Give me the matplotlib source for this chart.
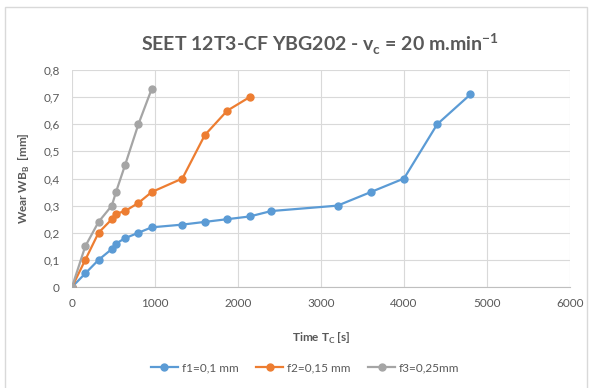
import matplotlib.pyplot as plt
from matplotlib.patches import Rectangle

plt.rcParams['font.family'] = ['Lato', 'DejaVu Sans']

t1 = [0, 160, 320, 480, 530, 640, 800, 960, 1330, 1600, 1870, 2140, 2400, 3200, 3600, 4000, 4400, 4800]
wear1 = [0, 0.05, 0.10, 0.14, 0.16, 0.18, 0.20, 0.22, 0.23, 0.24, 0.25, 0.26, 0.28, 0.30, 0.35, 0.40, 0.60, 0.71]
t2 = [0, 160, 320, 480, 530, 640, 800, 960, 1330, 1600, 1870, 2140]
wear2 = [0, 0.10, 0.20, 0.25, 0.27, 0.28, 0.31, 0.35, 0.40, 0.56, 0.65, 0.70]
t3 = [0, 160, 320, 480, 530, 640, 800, 960]
wear3 = [0, 0.15, 0.24, 0.30, 0.35, 0.45, 0.60, 0.73]
labels = ["f1=0,1 mm", "f2=0,15 mm", "f3=0,25mm"]
colors = ["#5B9BD5", "#ED7D31", "#A5A5A5"]

txt = "#595959"
fig = plt.figure(figsize=(5.93, 3.88), dpi=100)
fig.patches.append(Rectangle((5/593, -0.05), 582/593, 1 - 7/388 + 0.05, transform=fig.transFigure,
                             fill=False, edgecolor="#D9D9D9", linewidth=1))
ax = fig.add_axes([72/593, 1 - 287/388, 498/593, 217/388])

for t, w, lab, c in zip([t1, t2, t3], [wear1, wear2, wear3], labels, colors):
    ax.plot(t, w, color=c, lw=1.6, marker="o", ms=5, label=lab, zorder=3)

ax.set_xlim(0, 6000)
ax.set_ylim(0, 0.8)
ax.set_xticks(range(0, 6001, 1000))
yt = [i / 10 for i in range(9)]
ax.set_yticks(yt)
ax.set_yticklabels(["0"] + [("%.1f" % v).replace(".", ",") for v in yt[1:]])
ax.grid(True, color="#D9D9D9", lw=0.8)
ax.set_axisbelow(True)
for s in ["top", "right", "left"]:
    ax.spines[s].set_visible(False)
ax.spines["bottom"].set_color("#BFBFBF")
ax.tick_params(length=0, colors=txt, labelsize=8.5, pad=8)
ax.tick_params(axis="y", pad=9)

ax.set_xlabel("Time T$_\\mathregular{C}$ [s]", fontsize=8.5, fontweight="bold", color=txt, labelpad=16)
ax.set_ylabel("Wear WB$_\\mathregular{B}$  [mm]", fontsize=8.5, fontweight="bold", color=txt, labelpad=8)
fig.text(320/593, 1 - 44/388, "SEET 12T3-CF YBG202 - v$_\\mathregular{c}$ = 20 m.min$^\\mathregular{-1}$",
         ha="center", va="center", fontsize=14, fontweight="bold", color=txt)

ax.legend(loc="center", bbox_to_anchor=(305/593, 1 - 368/388), bbox_transform=fig.transFigure,
          ncol=3, frameon=False, fontsize=8.5, labelcolor=txt, handlelength=2.3,
          columnspacing=1.5, handletextpad=0.3)

fig.savefig("out.png", dpi=100)
